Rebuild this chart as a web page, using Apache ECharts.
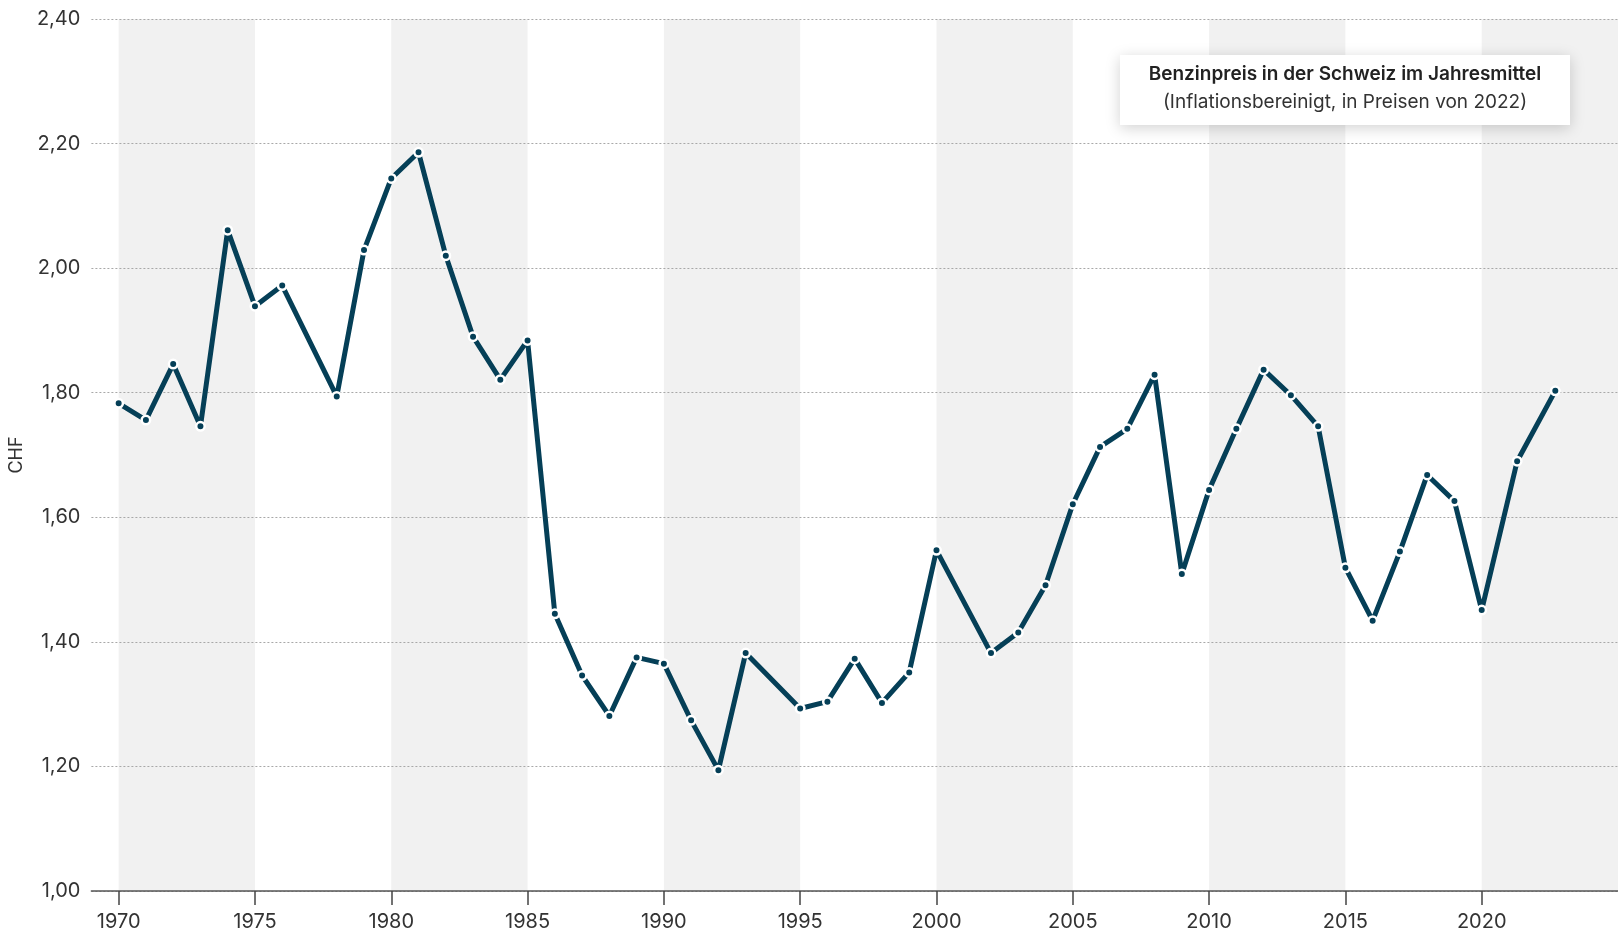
<!DOCTYPE html>
<html lang="de">
<head>
    <meta charset="UTF-8">
    <title>Benzinpreis Schweiz</title>
    <script src="https://cdn.jsdelivr.net/npm/echarts@6/dist/echarts.min.js"></script>
    <style>
        html, body {margin: 0; padding: 0; background: #fff;}
        #chart {width: 1618px; height: 932px;}
    </style>
</head>
<body>
<div id="chart"></div>
<script type="text/javascript">
    // Jahre (1977, 1994 und 2001 fehlen in der Vorlage)
    var years = [1970, 1971, 1972, 1973, 1974, 1975, 1976, 1978, 1979, 1980,
        1981, 1982, 1983, 1984, 1985, 1986, 1987, 1988, 1989, 1990,
        1991, 1992, 1993, 1995, 1996, 1997, 1998, 1999, 2000, 2002,
        2003, 2004, 2005, 2006, 2007, 2008, 2009, 2010, 2011, 2012,
        2013, 2014, 2015, 2016, 2017, 2018, 2019, 2020, 2021.3, 2022.7];
    // CHF pro Liter, inflationsbereinigt
    var prices = [1.783, 1.756, 1.846, 1.746, 2.061, 1.939, 1.972, 1.794, 2.029, 2.144,
        2.186, 2.020, 1.890, 1.821, 1.884, 1.445, 1.346, 1.281, 1.375, 1.365,
        1.274, 1.194, 1.382, 1.293, 1.304, 1.373, 1.302, 1.351, 1.547, 1.382,
        1.415, 1.491, 1.621, 1.713, 1.742, 1.829, 1.509, 1.644, 1.742, 1.837,
        1.796, 1.746, 1.519, 1.434, 1.545, 1.668, 1.626, 1.451, 1.690, 1.803];
    var xTicks = [1970, 1975, 1980, 1985, 1990, 1995, 2000, 2005, 2010, 2015, 2020];
    // graue Hintergrundstreifen (jeweils 5 Jahre)
    var bandStarts = [1970, 1980, 1990, 2000, 2010, 2020];
    var bandWidth = 5;

    var lineColor = '#053f57';
    var font = 'Inter, "Liberation Sans", sans-serif';

    var chart = echarts.init(document.getElementById('chart'));

    var seriesData = years.map(function (y, i) { return [y, prices[i]]; });
    var bandData = bandStarts.map(function (s) { return [s, s + bandWidth]; });

    var option = {
        animation: false,
        textStyle: {fontFamily: font},
        grid: {left: 91, right: 0, top: 19, bottom: 40},
        xAxis: {
            type: 'value',
            min: 1969,
            max: 2025,
            z: 1,
            splitLine: {show: false},
            axisLine: {show: true, onZero: false, lineStyle: {color: '#555', width: 1.5}},
            axisTick: {show: true, customValues: xTicks, length: 14, lineStyle: {color: '#444', width: 1.5}},
            axisLabel: {
                customValues: xTicks, margin: 21, fontSize: 20, color: '#333', fontFamily: font,
                formatter: function (v) { return String(v); }
            }
        },
        yAxis: {
            type: 'value',
            min: 1,
            max: 2.4,
            interval: 0.2,
            z: 1,
            name: 'CHF',
            nameLocation: 'middle',
            nameGap: 62,
            nameTextStyle: {fontSize: 18, color: '#333', fontFamily: font},
            axisLine: {show: false},
            axisTick: {show: false},
            axisLabel: {
                margin: 11, fontSize: 20, color: '#333', fontFamily: font,
                formatter: function (v) { return v.toFixed(2).replace('.', ','); }
            },
            splitLine: {show: true, lineStyle: {color: '#a8a8a8', type: [2, 2], width: 1}}
        },
        graphic: [{
            type: 'rect',
            left: 1120, top: 55, z: 100,
            shape: {width: 450, height: 70},
            style: {fill: '#fff', shadowBlur: 14, shadowColor: 'rgba(0,0,0,0.18)', shadowOffsetY: 3}
        }, {
            type: 'text',
            x: 1345, y: 74, z: 101,
            style: {
                text: 'Benzinpreis in der Schweiz im Jahresmittel',
                align: 'center', verticalAlign: 'middle',
                font: '600 19px ' + font, fill: '#222'
            }
        }, {
            type: 'text',
            x: 1345, y: 102, z: 101,
            style: {
                text: '(Inflationsbereinigt, in Preisen von 2022)',
                align: 'center', verticalAlign: 'middle',
                font: '400 19px ' + font, fill: '#333'
            }
        }],
        series: [{
            type: 'custom',
            z: 0,
            silent: true,
            data: bandData,
            renderItem: function (params, api) {
                var p0 = api.coord([api.value(0), 2.4]);
                var p1 = api.coord([api.value(1), 1]);
                var rect = echarts.graphic.clipRectByRect(
                    {x: p0[0], y: p0[1], width: p1[0] - p0[0], height: p1[1] - p0[1]},
                    params.coordSys
                );
                return rect && {type: 'rect', shape: rect, style: {fill: '#f1f1f1'}};
            }
        }, {
            type: 'line',
            z: 2,
            data: seriesData,
            symbol: 'circle',
            symbolSize: 8.5,
            showAllSymbol: true,
            lineStyle: {color: lineColor, width: 5},
            itemStyle: {color: lineColor, borderColor: '#fff', borderWidth: 2.5}
        }]
    };

    chart.setOption(option);
</script>
</body>
</html>
